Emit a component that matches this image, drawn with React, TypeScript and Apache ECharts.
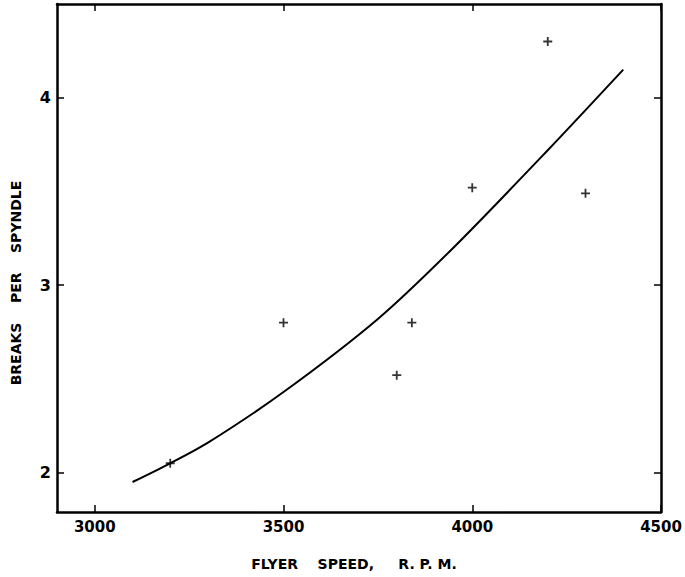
import React, { useEffect, useRef } from "react";
import * as echarts from "echarts";

const xTicks = [3000, 3500, 4000, 4500];
const yTicks = [2, 3, 4];
const pointSpeeds = [3200, 3500, 3800, 3840, 4000, 4200, 4300];
const pointBreaks = [2.05, 2.8, 2.52, 2.8, 3.52, 4.3, 3.49];
const curveSpeeds = [3100, 3200, 3300, 3500, 3750, 3950, 4200, 4400];
const curveBreaks = [1.95, 2.05, 2.16, 2.43, 2.82, 3.2, 3.72, 4.15];
const xTitle = "FLYER    SPEED,     R. P. M.";
const yTitle = "BREAKS    PER    SPYNDLE";

const FONT = "'DejaVu Sans', sans-serif";
const CROSS = "path://M3.2,0 H4.8 V3.2 H8 V4.8 H4.8 V8 H3.2 V4.8 H0 V3.2 H3.2 Z";

export default function App() {
  const ref = useRef<HTMLDivElement>(null);
  useEffect(() => {
    if (!ref.current) return;
    document.body.style.margin = "0";
    document.documentElement.style.overflow = "hidden";
    document.body.style.overflow = "hidden";
    const chart = echarts.init(ref.current, undefined, { renderer: "svg" });
    const axisLine = { show: true, lineStyle: { color: "#000", width: 2.5 } };
    const tick = (vals: number[]) => ({
      show: true,
      inside: true,
      length: 7,
      lineStyle: { color: "#000", width: 1.5 },
      customValues: vals,
    });
    chart.setOption({
      animation: false,
      backgroundColor: "#fff",
      grid: { left: 57, right: 24, top: 4, bottom: 65 },
      graphic: [
        {
          type: "text",
          x: 354,
          y: 564,
          style: {
            text: xTitle,
            fill: "#000",
            font: "bold 14px 'DejaVu Sans', sans-serif",
            align: "center",
            verticalAlign: "middle",
          },
        },
        {
          type: "text",
          x: 16,
          y: 283,
          rotation: Math.PI / 2,
          style: {
            text: yTitle,
            fill: "#000",
            font: "bold 14px 'DejaVu Sans', sans-serif",
            align: "center",
            verticalAlign: "middle",
          },
        },
      ],
      xAxis: [
        {
          type: "value",
          min: 2900,
          max: 4500,
          axisLine,
          axisTick: tick(xTicks),
          splitLine: { show: false },
          axisLabel: {
            customValues: xTicks,
            formatter: (v: number) => String(v),
            color: "#000",
            fontFamily: FONT,
            fontWeight: "bold",
            fontSize: 15,
            margin: 7,
          },
        },
        {
          type: "value",
          position: "top",
          min: 2900,
          max: 4500,
          axisLine,
          axisTick: tick(xTicks),
          splitLine: { show: false },
          axisLabel: { show: false },
        },
      ],
      yAxis: [
        {
          type: "value",
          min: 1.79,
          max: 4.5,
          axisLine,
          axisTick: tick(yTicks),
          splitLine: { show: false },
          axisLabel: {
            customValues: yTicks,
            color: "#000",
            fontFamily: FONT,
            fontWeight: "bold",
            fontSize: 16,
            margin: 6,
          },
        },
        {
          type: "value",
          position: "right",
          min: 1.79,
          max: 4.5,
          axisLine,
          axisTick: tick(yTicks),
          splitLine: { show: false },
          axisLabel: { show: false },
        },
      ],
      series: [
        {
          type: "line",
          data: curveSpeeds.map((s, i) => [s, curveBreaks[i]]),
          smooth: 0.3,
          showSymbol: false,
          lineStyle: { color: "#000", width: 2 },
        },
        {
          type: "scatter",
          data: pointSpeeds.map((s, i) => [s, pointBreaks[i]]),
          symbol: CROSS,
          symbolSize: 9,
          itemStyle: { color: "#000" },
        },
      ],
    });
    return () => chart.dispose();
  }, []);
  return <div ref={ref} style={{ width: 685, height: 577 }} />;
}
